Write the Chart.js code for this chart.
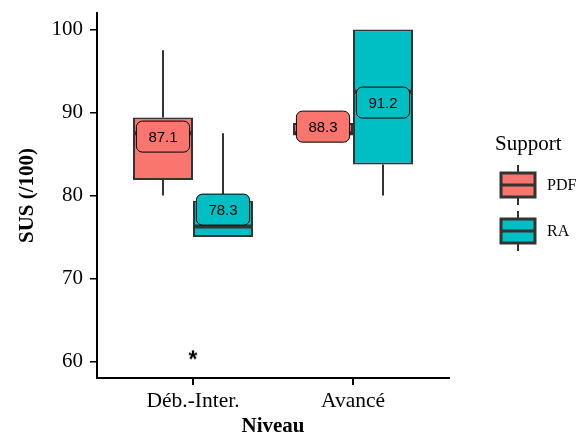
<!DOCTYPE html>
<html>
<head>
<meta charset="utf-8">
<script src="https://cdn.jsdelivr.net/npm/chart.js@4.4.0/dist/chart.umd.min.js"></script>
<style>
  html, body { margin: 0; padding: 0; background: #fff; }
</style>
</head>
<body>
<canvas id="sus" width="577" height="439"></canvas>
<script>
// categories and groups
const levels = ['Déb.-Inter.', 'Avancé'];
const groups = ['PDF', 'RA'];
const colors = ['#F8766D', '#00BFC4'];

// box stats, [group][level]
const lo    = [[80, 87.5], [75, 80]];
const q1    = [[81.875, 87.5], [75, 83.75]];
const med   = [[87.5, 87.5], [76.25, 92.5]];
const q3    = [[89.4, 88.75], [79.375, 100]];
const hi    = [[97.5, 90], [87.5, 100]];
const means = [[87.1, 88.3], [78.3, 91.2]];

// significance mark ("*") under the first level
const sigLevels = [0];
const sigY = [60];

const yTicks = [60, 70, 80, 90, 100];

const dodge = 0.75;   // ggplot dodge width

Chart.defaults.font.family = 'Liberation Serif';
Chart.defaults.color = '#000';

// "*" glyph used as the point style of the significance mark
const star = document.createElement('canvas');
star.width = 24; star.height = 24;
(() => {
  const c = star.getContext('2d');
  c.fillStyle = '#000';
  c.font = 'bold 23px "Liberation Sans"';
  c.textAlign = 'center';
  c.textBaseline = 'middle';
  c.fillText('*', 12, 12);
})();

const boxExtras = {
  id: 'boxExtras',
  beforeDatasetsDraw(chart) {
    const { ctx } = chart;
    const y = chart.scales.y;
    ctx.save();
    ctx.strokeStyle = '#333333';
    ctx.lineWidth = 2;
    groups.forEach((g, gi) => {
      chart.getDatasetMeta(gi).data.forEach((bar, li) => {
        ctx.beginPath();
        ctx.moveTo(bar.x, y.getPixelForValue(hi[gi][li]));
        ctx.lineTo(bar.x, y.getPixelForValue(q3[gi][li]));
        ctx.moveTo(bar.x, y.getPixelForValue(q1[gi][li]));
        ctx.lineTo(bar.x, y.getPixelForValue(lo[gi][li]));
        ctx.stroke();
      });
    });
    ctx.restore();
  },
  afterDatasetsDraw(chart) {
    const { ctx } = chart;
    const y = chart.scales.y;
    ctx.save();
    // medians
    ctx.strokeStyle = '#333333';
    ctx.lineWidth = 4;
    groups.forEach((g, gi) => {
      chart.getDatasetMeta(gi).data.forEach((bar, li) => {
        const ym = y.getPixelForValue(med[gi][li]);
        ctx.beginPath();
        ctx.moveTo(bar.x - bar.width / 2, ym);
        ctx.lineTo(bar.x + bar.width / 2, ym);
        ctx.stroke();
      });
    });
    // mean labels
    ctx.font = '15px "Liberation Sans"';
    ctx.textAlign = 'center';
    ctx.textBaseline = 'middle';
    groups.forEach((g, gi) => {
      chart.getDatasetMeta(gi).data.forEach((bar, li) => {
        const txt = means[gi][li].toFixed(1);
        const w = ctx.measureText(txt).width + 24;
        const h = 31;
        const yc = y.getPixelForValue(means[gi][li]);
        ctx.beginPath();
        ctx.roundRect(bar.x - w / 2, yc - h / 2, w, h, 6);
        ctx.fillStyle = colors[gi];
        ctx.fill();
        ctx.lineWidth = 1;
        ctx.strokeStyle = '#000';
        ctx.stroke();
        ctx.fillStyle = '#000';
        ctx.fillText(txt, bar.x, yc + 1);
      });
    });
    ctx.restore();
  },
  afterDraw(chart) {
    const { ctx } = chart;
    const x = chart.scales.x;
    ctx.save();
    // x tick marks
    ctx.strokeStyle = '#000';
    ctx.lineWidth = 2;
    x.ticks.forEach((t, i) => {
      const px = Math.round(x.getPixelForTick(i));
      ctx.beginPath();
      ctx.moveTo(px, x.top);
      ctx.lineTo(px, x.top + 7);
      ctx.stroke();
    });
    // legend
    ctx.fillStyle = '#000';
    ctx.font = '21px "Liberation Serif"';
    ctx.textBaseline = 'alphabetic';
    ctx.fillText('Support', 495, 150);
    groups.forEach((g, gi) => {
      const top = 173 + gi * 46;
      ctx.strokeStyle = '#333333';
      ctx.lineWidth = 2;
      ctx.beginPath();
      ctx.moveTo(518, top - 8); ctx.lineTo(518, top);
      ctx.moveTo(518, top + 24); ctx.lineTo(518, top + 32);
      ctx.stroke();
      ctx.fillStyle = colors[gi];
      ctx.fillRect(501, top, 34, 24);
      ctx.lineWidth = 3;
      ctx.strokeRect(501, top, 34, 24);
      ctx.beginPath();
      ctx.moveTo(501, top + 12); ctx.lineTo(535, top + 12);
      ctx.stroke();
      ctx.fillStyle = '#000';
      ctx.font = '16px "Liberation Serif"';
      ctx.textBaseline = 'middle';
      ctx.fillText(g, 547, top + 13);
      ctx.textBaseline = 'alphabetic';
    });
    ctx.restore();
  }
};

const datasets = groups.map((g, gi) => ({
  type: 'bar',
  label: g,
  data: levels.map((_, li) => ({ x: li + 1, y: [q1[gi][li], q3[gi][li]] })),
  backgroundColor: colors[gi],
  borderColor: '#333333',
  borderWidth: 2,
  borderSkipped: false,
  categoryPercentage: dodge,
  barPercentage: 1
}));

datasets.push({
  type: 'scatter',
  label: 'signif',
  data: sigLevels.map((li, i) => ({ x: li + 1, y: sigY[i] })),
  pointStyle: star,
  radius: 12
});

new Chart(document.getElementById('sus'), {
  type: 'bar',
  data: { datasets },
  options: {
    responsive: false,
    animation: false,
    events: [],
    layout: { padding: { left: 0, right: 128, top: 10, bottom: 0 } },
    plugins: { legend: { display: false }, tooltip: { enabled: false } },
    scales: {
      x: {
        type: 'linear',
        min: 0.4,
        max: 2.6,
        offset: false,
        afterBuildTicks: s => { s.ticks = levels.map((_, i) => ({ value: i + 1 })); },
        afterFit: s => { s.height = 61; s.paddingLeft = 0; s.paddingRight = 0; },
        ticks: {
          callback: (v, i) => levels[i],
          color: '#000',
          font: { size: 21.5 },
          padding: 4,
          maxRotation: 0,
          autoSkip: false
        },
        grid: { offset: false, drawOnChartArea: false, drawTicks: true, tickLength: 6, color: '#000', lineWidth: 2 },
        border: { display: true, color: '#000', width: 2 },
        title: {
          display: true,
          text: 'Niveau',
          color: '#000',
          font: { size: 21, weight: 'bold' },
          padding: { top: 0, bottom: 0 }
        }
      },
      y: {
        min: 58,
        max: 102,
        afterBuildTicks: s => { s.ticks = yTicks.map(v => ({ value: v })); },
        afterFit: s => { s.width = 97; s.paddingTop = 0; s.paddingBottom = 0; },
        ticks: { color: '#000', font: { size: 21 }, padding: 7 },
        grid: { drawOnChartArea: false, drawTicks: true, tickLength: 7, color: '#000', lineWidth: 1.5 },
        border: { display: true, color: '#000', width: 2 },
        title: {
          display: true,
          text: 'SUS (/100)',
          color: '#000',
          font: { size: 21, weight: 'bold' },
          padding: { top: 15, bottom: 0 }
        }
      }
    }
  },
  plugins: [boxExtras]
});
</script>
</body>
</html>
